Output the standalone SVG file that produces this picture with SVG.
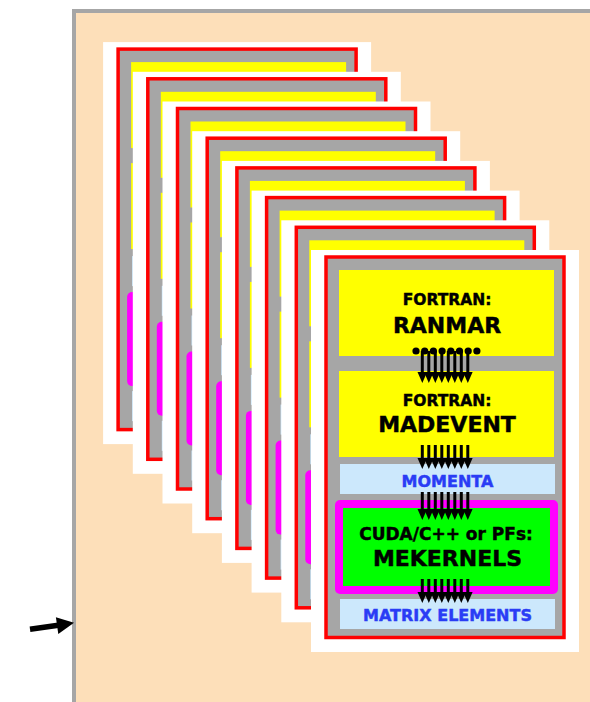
<svg xmlns="http://www.w3.org/2000/svg" width="590" height="702" viewBox="0 0 590 702">
  <style>
    .sheet { fill: #ffffff; }
    .frame { fill: #a6a6a6; stroke: #ff0000; stroke-width: 3.5; }
    .yellow { fill: #ffff00; }
    .data { fill: #cce8fc; }
    .ring { fill: #ff00ff; }
    .gpu { fill: #00ff00; }
    .lbl { font-family: "DejaVu Sans", Verdana, sans-serif; font-weight: bold; text-anchor: middle; fill: #000000; stroke: #000000; stroke-width: 0.45; }
    .small { font-size: 15.5px; }
    .big { font-size: 22px; }
    .blue { fill: #2a3cf5; stroke: #2a3cf5; font-size: 16px; }
    .stem { stroke: #000000; stroke-width: 3; fill: none; marker-end: url(#head); }
  </style>
  <defs>
    <marker id="head" viewBox="0 -5 11 10" markerWidth="11" markerHeight="10" refX="0" refY="0" orient="auto" markerUnits="userSpaceOnUse">
      <path d="M0,-4.8 L11,0 L0,4.8 z" fill="#000000"/>
    </marker>
    <!-- one processing card without labels, reused for the stacked copies -->
    <g id="cardFrame">
      <rect class="sheet" x="311" y="250" width="268" height="402"/>
      <rect class="frame" x="326" y="257" width="238" height="380.5"/>
      <rect class="yellow" x="339" y="270" width="215" height="86"/>
      <rect class="yellow" x="339" y="371" width="215" height="86"/>
      <rect class="data" x="340" y="464" width="215" height="30"/>
      <rect class="ring" x="335" y="500" width="223" height="94" rx="5"/>
      <rect class="gpu" x="343" y="508" width="207" height="78"/>
      <rect class="data" x="340" y="599" width="215" height="30"/>
    </g>
  </defs>

  <!-- background panel -->
  <rect x="74" y="11" width="540" height="720" fill="#fddfb9" stroke="#a6a6a6" stroke-width="4"/>

  <!-- input arrow on the left edge -->
  <g id="entry-arrow">
    <line x1="30" y1="629.3" x2="60" y2="625" stroke="#000000" stroke-width="5.5"/>
    <polygon points="74,622.8 55.9,617.3 58.3,634" fill="#000000"/>
  </g>

  <!-- stacked copies, back to front -->
  <g id="card-stack">
    <use href="#cardFrame" transform="translate(-207.9,-207.9)"/>
    <use href="#cardFrame" transform="translate(-178.2,-178.2)"/>
    <use href="#cardFrame" transform="translate(-148.5,-148.5)"/>
    <use href="#cardFrame" transform="translate(-118.8,-118.8)"/>
    <use href="#cardFrame" transform="translate(-89.1,-89.1)"/>
    <use href="#cardFrame" transform="translate(-59.4,-59.4)"/>
    <use href="#cardFrame" transform="translate(-29.7,-29.7)"/>
  </g>

  <!-- front card -->
  <g id="card-front">
    <rect class="sheet" x="311" y="250" width="268" height="402"/>
    <rect class="frame" x="326" y="257" width="238" height="380.5"/>
  </g>

  <g id="ranmar">
    <rect class="yellow" x="339" y="270" width="215" height="86"/>
    <text class="lbl small" x="447" y="305">FORTRAN:</text>
    <text class="lbl big" x="447" y="333">RANMAR</text>
  </g>

  <g id="madevent">
    <rect class="yellow" x="339" y="371" width="215" height="86"/>
    <text class="lbl small" x="447" y="406">FORTRAN:</text>
    <text class="lbl big" x="447" y="432">MADEVENT</text>
  </g>

  <g id="momenta">
    <rect class="data" x="340" y="464" width="215" height="30"/>
    <text class="lbl blue" x="447.5" y="487">MOMENTA</text>
  </g>

  <g id="mekernels">
    <rect class="ring" x="335" y="500" width="223" height="94" rx="5"/>
    <rect class="gpu" x="343" y="508" width="207" height="78"/>
    <text class="lbl" x="446" y="540" font-size="17">CUDA/C++ or PFs:</text>
    <text class="lbl big" x="447.5" y="566">MEKERNELS</text>
  </g>

  <g id="matrix-elements">
    <rect class="data" x="340" y="599" width="215" height="30"/>
    <text class="lbl blue" x="447.5" y="621" font-size="16.5">MATRIX ELEMENTS</text>
  </g>

  <!-- data-flow bundles between stages -->
  <g id="connectors">
    <g id="ranmar-to-madevent">
      <g fill="#000000">
        <circle cx="416" cy="351" r="3.6"/>
        <circle cx="424.7" cy="351" r="3.6"/>
        <circle cx="433.4" cy="351" r="3.6"/>
        <circle cx="442.1" cy="351" r="3.6"/>
        <circle cx="450.8" cy="351" r="3.6"/>
        <circle cx="459.5" cy="351" r="3.6"/>
        <circle cx="468.2" cy="351" r="3.6"/>
        <circle cx="476.9" cy="351" r="3.6"/>
      </g>
      <path class="stem" d="M422.3,351V372"/>
      <path class="stem" d="M428.8,351V372"/>
      <path class="stem" d="M435.3,351V372"/>
      <path class="stem" d="M441.8,351V372"/>
      <path class="stem" d="M448.3,351V372"/>
      <path class="stem" d="M454.8,351V372"/>
      <path class="stem" d="M461.3,351V372"/>
      <path class="stem" d="M467.8,351V372"/>
    </g>
    <g id="madevent-to-momenta">
      <path class="stem" d="M422.3,445V458"/>
      <path class="stem" d="M428.8,445V458"/>
      <path class="stem" d="M435.3,445V458"/>
      <path class="stem" d="M441.8,445V458"/>
      <path class="stem" d="M448.3,445V458"/>
      <path class="stem" d="M454.8,445V458"/>
      <path class="stem" d="M461.3,445V458"/>
      <path class="stem" d="M467.8,445V458"/>
    </g>
    <g id="momenta-to-mekernels">
      <path class="stem" d="M422.3,492V509"/>
      <path class="stem" d="M428.8,492V509"/>
      <path class="stem" d="M435.3,492V509"/>
      <path class="stem" d="M441.8,492V509"/>
      <path class="stem" d="M448.3,492V509"/>
      <path class="stem" d="M454.8,492V509"/>
      <path class="stem" d="M461.3,492V509"/>
      <path class="stem" d="M467.8,492V509"/>
    </g>
    <g id="mekernels-to-matrix-elements">
      <path class="stem" d="M422.3,579V592"/>
      <path class="stem" d="M428.8,579V592"/>
      <path class="stem" d="M435.3,579V592"/>
      <path class="stem" d="M441.8,579V592"/>
      <path class="stem" d="M448.3,579V592"/>
      <path class="stem" d="M454.8,579V592"/>
      <path class="stem" d="M461.3,579V592"/>
      <path class="stem" d="M467.8,579V592"/>
    </g>
  </g>
</svg>
